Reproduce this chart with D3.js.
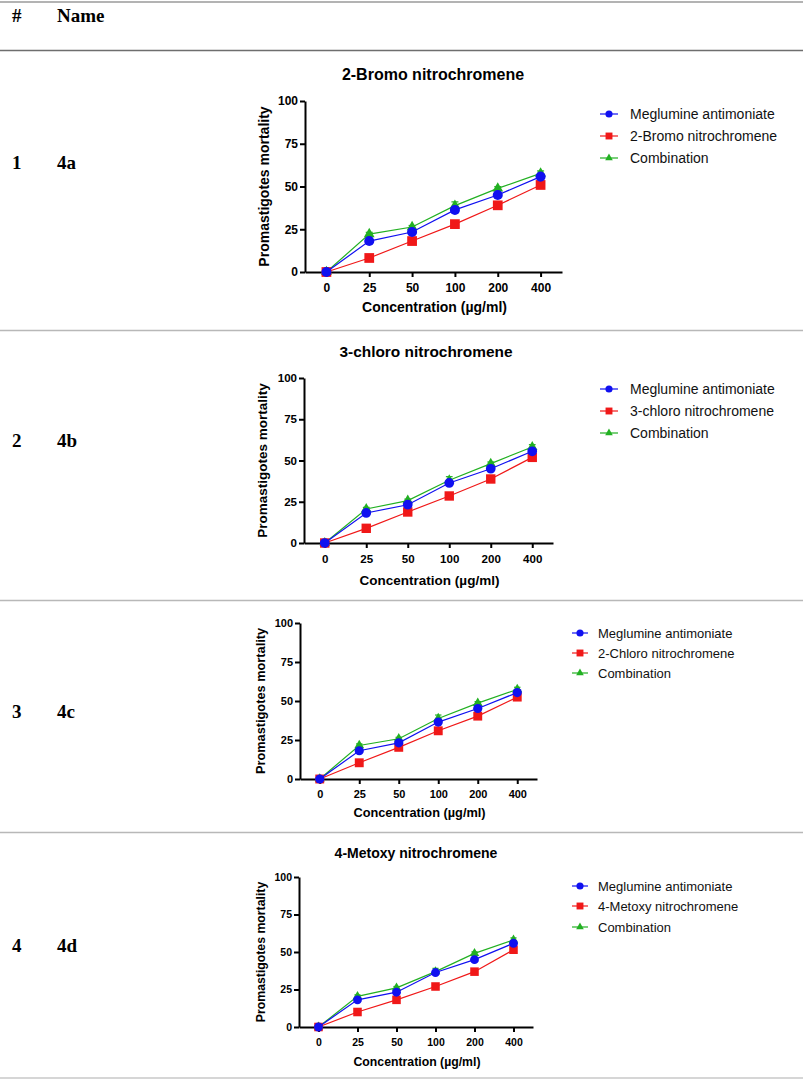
<!DOCTYPE html>
<html>
<head>
<meta charset="utf-8">
<script src="https://cdn.jsdelivr.net/npm/d3@7"></script>
<style>
  body { margin: 0; background: #fff; }
  svg { display: block; }
</style>
</head>
<body>
<svg id="page" width="803" height="1082"></svg>
<script>
// values
const concentrations = ["0", "25", "50", "100", "200", "400"];
const yTicks = [0, 25, 50, 75, 100];
const rowNumbers = ["1", "2", "3", "4"];
const compoundCodes = ["4a", "4b", "4c", "4d"];
const chartTitles = ["2-Bromo nitrochromene", "3-chloro nitrochromene", "", "4-Metoxy nitrochromene"];
const drugNames = ["2-Bromo nitrochromene", "3-chloro nitrochromene", "2-Chloro nitrochromene", "4-Metoxy nitrochromene"];
const refName = "Meglumine antimoniate";
const comboName = "Combination";

const meglumine4a = [0, 18.1, 23.4, 36.3, 45.0, 55.8];
const nitro4a = [0, 8.2, 18.1, 28.0, 39.0, 50.9];
const combo4a = [0, 22.2, 26.3, 38.8, 48.9, 57.7];

const meglumine4b = [0, 18.2, 23.2, 36.4, 45.0, 55.6];
const nitro4b = [0, 8.9, 18.8, 28.5, 38.8, 51.9];
const combo4b = [0, 20.6, 25.7, 38.0, 48.1, 58.2];

const meglumine4c = [0, 18.1, 23.2, 36.5, 45.2, 55.4];
const nitro4c = [0, 10.4, 20.3, 30.9, 40.3, 52.5];
const combo4c = [0, 21.5, 25.8, 38.8, 48.6, 57.4];

const meglumine4d = [0, 18.1, 23.2, 36.3, 44.9, 55.8];
const nitro4d = [0, 10.0, 18.1, 27.0, 36.9, 51.5];
const combo4d = [0, 20.4, 26.1, 36.9, 49.1, 58.0];

// error bars (SD), small
const meglumineErr = [0.5, 1.0, 0.8, 1.0, 1.2, 1.6];
const nitroErr = [0.4, 0.5, 0.6, 0.6, 0.6, 0.8];
const comboErr = [0.4, 1.0, 0.9, 2.2, 1.0, 1.4];

const meglumineSeries = [meglumine4a, meglumine4b, meglumine4c, meglumine4d];
const nitroSeries = [nitro4a, nitro4b, nitro4c, nitro4d];
const comboSeries = [combo4a, combo4b, combo4c, combo4d];

// layout of each table row (page pixels)
const panels = [
  { x0: 305, x1: 562, yTop: 101, yBot: 272, ylab: 269, titleX: 433, titleY: 80, tickY: 20, labY: 40, rowY: 169,
    leg: { x: 600, w: 18, tx: 630, ys: [114, 136, 158], fs: 14 } },
  { x0: 304, x1: 553, yTop: 378, yBot: 543, ylab: 267, titleX: 426, titleY: 357, tickY: 20, labY: 42, rowY: 447,
    leg: { x: 600, w: 18, tx: 630, ys: [389, 411, 433], fs: 14 } },
  { x0: 300, x1: 537, yTop: 623, yBot: 779, ylab: 265, titleX: 418, titleY: 0, tickY: 19, labY: 38, rowY: 718,
    leg: { x: 572, w: 16, tx: 598, ys: [633, 653, 673], fs: 13 } },
  { x0: 299, x1: 533, yTop: 877, yBot: 1027, ylab: 265, titleX: 416, titleY: 858, tickY: 19, labY: 39, rowY: 952,
    leg: { x: 572, w: 16, tx: 598, ys: [886, 906, 927], fs: 13 } }
];

const BLUE = "#1010f0", RED = "#f01818", GREEN = "#22b022";
const sans = "'Liberation Sans', Arial, Helvetica, sans-serif";
const serif = "'Liberation Serif', 'Times New Roman', serif";

const svg = d3.select("#page");

// table rules
const rules = [
  { y: 2, c: "#9a9a9a" },
  { y: 50.5, c: "#6e6e6e" },
  { y: 330.5, c: "#b8b8b8" },
  { y: 600.5, c: "#b8b8b8" },
  { y: 832.5, c: "#b8b8b8" },
  { y: 1078, c: "#c8c8c8" }
];
svg.selectAll("line.rule").data(rules).enter().append("line")
  .attr("class", "rule")
  .attr("x1", 0).attr("x2", 803)
  .attr("y1", d => d.y).attr("y2", d => d.y)
  .attr("stroke", d => d.c).attr("stroke-width", 1.3);

// header
svg.append("text").attr("x", 12).attr("y", 22).text("#")
  .attr("font-family", serif).attr("font-weight", "bold").attr("font-size", 19);
svg.append("text").attr("x", 57).attr("y", 22).text("Name")
  .attr("font-family", serif).attr("font-weight", "bold").attr("font-size", 19);

for (let i = 0; i < panels.length; i++) {
  const p = panels[i];
  const k = (p.yBot - p.yTop) / 171;

  // row number and compound code
  svg.append("text").attr("x", 12).attr("y", p.rowY).text(rowNumbers[i])
    .attr("font-family", serif).attr("font-weight", "bold").attr("font-size", 19);
  svg.append("text").attr("x", 57).attr("y", p.rowY).text(compoundCodes[i])
    .attr("font-family", serif).attr("font-weight", "bold").attr("font-size", 19);

  const x = d3.scalePoint().domain(concentrations).range([p.x0, p.x1]).padding(0.5);
  const y = d3.scaleLinear().domain([0, 100]).range([p.yBot, p.yTop]);

  const g = svg.append("g").attr("class", "chart-" + compoundCodes[i]);

  // title
  if (chartTitles[i]) {
    g.append("text")
      .attr("x", p.titleX).attr("y", p.titleY)
      .attr("text-anchor", "middle")
      .attr("font-family", sans).attr("font-weight", "bold")
      .attr("font-size", 16 * k)
      .text(chartTitles[i]);
  }

  // axes
  const yAxis = g.append("g")
    .attr("transform", "translate(" + p.x0 + ",0)")
    .call(d3.axisLeft(y).tickValues(yTicks).tickSize(5).tickSizeOuter(0).tickPadding(2));
  const xAxis = g.append("g")
    .attr("transform", "translate(0," + p.yBot + ")")
    .call(d3.axisBottom(x).tickSize(5).tickSizeOuter(0));

  [yAxis, xAxis].forEach(a => {
    a.attr("font-family", sans).attr("font-size", 12 * k).attr("font-weight", "bold");
    a.select(".domain").attr("stroke", "#000").attr("stroke-width", 2);
    a.selectAll(".tick line").attr("stroke", "#000").attr("stroke-width", 2);
    a.selectAll(".tick text").attr("fill", "#000");
  });
  xAxis.selectAll(".tick text").attr("dy", null).attr("y", p.tickY);

  // axis titles
  g.append("text")
    .attr("x", (p.x0 + p.x1) / 2 + 1).attr("y", p.yBot + p.labY)
    .attr("text-anchor", "middle")
    .attr("font-family", sans).attr("font-weight", "bold").attr("font-size", 14 * k)
    .text("Concentration (\u00b5g/ml)");
  g.append("text")
    .attr("transform", "translate(" + p.ylab + "," + (p.yTop + p.yBot) / 2 + ") rotate(-90)")
    .attr("text-anchor", "middle")
    .attr("font-family", sans).attr("font-weight", "bold").attr("font-size", 14 * k)
    .text("Promastigotes mortality");

  const series = [
    { name: comboName, values: comboSeries[i], err: comboErr, color: GREEN, shape: d3.symbolTriangle, size: 50 },
    { name: drugNames[i], values: nitroSeries[i], err: nitroErr, color: RED, shape: d3.symbolSquare, size: 95 },
    { name: refName, values: meglumineSeries[i], err: meglumineErr, color: BLUE, shape: d3.symbolCircle, size: 80 }
  ];

  const line = d3.line()
    .x((d, j) => x(concentrations[j]))
    .y(d => y(d));

  series.forEach(s => {
    const sg = g.append("g");
    const pts = s.values.map((v, j) => ({ c: concentrations[j], v: v, e: s.err[j] }));

    sg.append("path")
      .datum(s.values)
      .attr("fill", "none")
      .attr("stroke", s.color)
      .attr("stroke-width", 1.2)
      .attr("d", line);

    // error bars
    const eb = sg.selectAll("g.err").data(pts).enter().append("g").attr("class", "err");
    eb.append("line")
      .attr("x1", d => x(d.c)).attr("x2", d => x(d.c))
      .attr("y1", d => y(d.v - d.e)).attr("y2", d => y(d.v + d.e))
      .attr("stroke", s.color).attr("stroke-width", 1.2);
    eb.append("line")
      .attr("x1", d => x(d.c) - 3.5 * k).attr("x2", d => x(d.c) + 3.5 * k)
      .attr("y1", d => y(d.v + d.e)).attr("y2", d => y(d.v + d.e))
      .attr("stroke", s.color).attr("stroke-width", 1.2);

    sg.selectAll("path.mark").data(pts).enter().append("path")
      .attr("class", "mark")
      .attr("transform", d => "translate(" + x(d.c) + "," + y(d.v) + ")")
      .attr("d", d3.symbol().type(s.shape).size(s.size * k * k))
      .attr("fill", s.color);
  });

  // legend, drawn top to bottom: reference, drug, combination
  const legendOrder = [series[2], series[1], series[0]];
  const lg = svg.append("g").attr("class", "legend");
  legendOrder.forEach((s, j) => {
    const ly = p.leg.ys[j];
    lg.append("line")
      .attr("x1", p.leg.x).attr("x2", p.leg.x + p.leg.w)
      .attr("y1", ly).attr("y2", ly)
      .attr("stroke", s.color).attr("stroke-width", 1.2);
    lg.append("path")
      .attr("transform", "translate(" + (p.leg.x + p.leg.w / 2) + "," + ly + ")")
      .attr("d", d3.symbol().type(s.shape).size(s.size * 0.5))
      .attr("fill", s.color);
    lg.append("text")
      .attr("x", p.leg.tx).attr("y", ly)
      .attr("dy", "0.36em")
      .attr("font-family", sans).attr("font-size", p.leg.fs)
      .attr("fill", "#111")
      .text(s.name);
  });
}
</script>
</body>
</html>
